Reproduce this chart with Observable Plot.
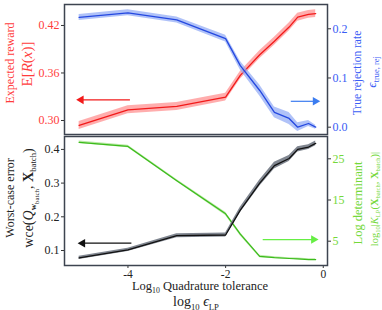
<!DOCTYPE html>
<html>
<head>
<meta charset="utf-8">
<script src="https://cdn.jsdelivr.net/npm/d3@7"></script>
<script src="https://cdn.jsdelivr.net/npm/@observablehq/plot@0.6"></script>
<style>
  html, body { margin: 0; padding: 0; background: #fff; }
  svg { display: block; }
</style>
</head>
<body>
<script>
// ---- data ----
const logTol    = [-5, -4, -3, -2, -1.699, -1.301, -1, -0.699, -0.523, -0.301, -0.155];
// top panel
const reward    = [0.2937, 0.3135, 0.3177, 0.3295, 0.357, 0.383, 0.400, 0.418, 0.4305, 0.434, 0.435];
const rewardErr = [0.005, 0.005, 0.005, 0.005, 0.005, 0.005, 0.005, 0.005, 0.005, 0.005, 0.005];
const rejRate   = [0.223, 0.2325, 0.218, 0.180, 0.125, 0.0746, 0.030, 0.0177, 0.0, 0.0075, 0.0];
const rejErr    = [0.006, 0.006, 0.006, 0.007, 0.009, 0.011, 0.011, 0.012, 0.009, 0.006, 0.004];
// bottom panel
const wce       = [0.078, 0.102, 0.144, 0.146, 0.22, 0.30, 0.352, 0.373, 0.40, 0.407, 0.418];
const wceErr    = [0.005, 0.005, 0.006, 0.006, 0.008, 0.009, 0.010, 0.009, 0.008, 0.007, 0.007];
const logDet    = [29.0, 28.0, 19.7, 11.65, 6.7, 1.3, 1.0, 0.8, 0.7, 0.55, 0.55];
const logDetErr = [0.3, 0.3, 0.3, 0.4, 0.4, 0.3, 0.2, 0.2, 0.2, 0.2, 0.2];
// ticks
const xTicks      = [-4, -2, 0];
const rewardTicks = [0.30, 0.36, 0.42];
const rejTicks    = [0.0, 0.1, 0.2];
const wceTicks    = [0.1, 0.2, 0.3, 0.4];
const detTicks    = [5, 15, 25];
// direction arrows (in each series' own units): [x1, x2, y]
const arrowReward = [-3.96, -5.0, 0.3261];
const arrowRej    = [-0.665, -0.122, 0.0526];
const arrowWce    = [-3.93, -4.97, 0.1217];
const arrowDet    = [-1.24, -0.157, 5.4];

// ---- scale mapping for secondary (right) axes ----
const rejToL = v => 0.29154 + 0.62145 * v;
const detToL = v => 0.06647 + 0.012226 * v;

const xDomain = [-5.30, 0.087];
const frameColor = "#3d4450";
const RED = "#f21a1a", RED_BAND = "#ff8a8a", RED_TXT = "#ff3c3c";
const BLUE = "#2448e0", BLUE_BAND = "#8fa8f5", BLUE_TXT = "#3a5cf5";
const BLACK = "#111", BLACK_BAND = "#6a717c";
const GREEN = "#3cbb1c", GREEN_BAND = "#9be07f", GREEN_TXT = "#74d83a", GREEN_ARR = "#66ee44";

const topRows = logTol.map((x, i) => ({
  x,
  r: reward[i], r1: reward[i] - rewardErr[i], r2: reward[i] + rewardErr[i],
  b: rejToL(rejRate[i]), b1: rejToL(rejRate[i] - rejErr[i]), b2: rejToL(rejRate[i] + rejErr[i])
}));
const botRows = logTol.map((x, i) => ({
  x,
  w: wce[i], w1: wce[i] - wceErr[i], w2: wce[i] + wceErr[i],
  g: detToL(logDet[i]), g1: detToL(logDet[i] - logDetErr[i]), g2: detToL(logDet[i] + logDetErr[i])
}));

const svgStyle = "font-family:'Liberation Serif', serif; font-size:12px; background:#fff; overflow:visible;";

function arrowMarks(a, yMap, color, dir) {
  const d = [{x1: a[0], x2: a[1], y: yMap(a[2])}];
  return [
    Plot.link(d, {x1: "x1", x2: "x2", y1: "y", y2: "y", stroke: color, strokeWidth: 1.2}),
    Plot.dot(d, {x: "x2", y: "y", symbol: "triangle", r: 3.2, fill: color, stroke: null,
                 rotate: dir < 0 ? -90 : 90, dx: dir < 0 ? 2 : -2})
  ];
}

// ---- top panel ----
const topPlot = Plot.plot({
  width: 382, height: 135,
  marginTop: 4, marginBottom: 1, marginLeft: 64, marginRight: 55,
  style: svgStyle,
  x: {domain: xDomain, axis: null},
  y: {domain: [0.2823, 0.4465], axis: null},
  marks: [
    Plot.areaY(topRows, {x: "x", y1: "r1", y2: "r2", fill: RED_BAND, fillOpacity: 0.7}),
    Plot.line(topRows, {x: "x", y: "r", stroke: RED, strokeWidth: 1.3}),
    Plot.areaY(topRows, {x: "x", y1: "b1", y2: "b2", fill: BLUE_BAND, fillOpacity: 0.7}),
    Plot.line(topRows, {x: "x", y: "b", stroke: BLUE, strokeWidth: 1.3}),
    ...arrowMarks(arrowReward, v => v, RED, -1),
    ...arrowMarks(arrowRej, rejToL, "#3b7cf0", 1),
    Plot.axisY(rewardTicks, {anchor: "left", tickSize: 3, tickPadding: 2, stroke: "#333", fill: RED_TXT,
      tickFormat: d => d.toFixed(2), label: null, fontSize: 12}),
    Plot.axisY(rejTicks.map(rejToL), {anchor: "right", tickSize: 3, tickPadding: 2, stroke: "#333", fill: BLUE_TXT,
      tickFormat: (d, i) => rejTicks[i].toFixed(1), label: null, fontSize: 12}),
    Plot.frame({stroke: frameColor, strokeWidth: 1.5})
  ]
});

// ---- bottom panel ----
const botPlot = Plot.plot({
  width: 382, height: 175,
  marginTop: 1, marginBottom: 45, marginLeft: 64, marginRight: 55,
  style: svgStyle,
  x: {domain: xDomain, axis: null},
  y: {domain: [0.0555, 0.4383], axis: null},
  marks: [
    Plot.areaY(botRows, {x: "x", y1: "g1", y2: "g2", fill: GREEN_BAND, fillOpacity: 0.7}),
    Plot.line(botRows, {x: "x", y: "g", stroke: GREEN, strokeWidth: 1.2}),
    Plot.areaY(botRows, {x: "x", y1: "w1", y2: "w2", fill: BLACK_BAND, fillOpacity: 0.85}),
    Plot.line(botRows, {x: "x", y: "w", stroke: BLACK, strokeWidth: 1.3}),
    ...arrowMarks(arrowWce, v => v, BLACK, -1),
    ...arrowMarks(arrowDet, detToL, GREEN_ARR, 1),
    Plot.axisY(wceTicks, {anchor: "left", tickSize: 3, tickPadding: 2, stroke: "#333", fill: "#222",
      tickFormat: d => d.toFixed(1), label: null, fontSize: 12}),
    Plot.axisY(detTicks.map(detToL), {anchor: "right", tickSize: 3, tickPadding: 2, stroke: "#333", fill: GREEN_TXT,
      tickFormat: (d, i) => String(detTicks[i]), label: null, fontSize: 12}),
    Plot.axisX(xTicks, {anchor: "bottom", tickSize: 3, tickPadding: 1, stroke: "#333", fill: "#222",
      tickFormat: d => String(d), label: null, fontSize: 11.5}),
    Plot.frame({stroke: frameColor, strokeWidth: 1.5})
  ]
});

document.body.append(topPlot, botPlot);

// ---- axis titles with sub/superscripts ----
function vlabel(svg, cx, cy, size, color, parts) {
  const t = d3.select(svg).append("text")
    .attr("transform", `translate(${cx},${cy}) rotate(-90)`)
    .attr("text-anchor", "middle").attr("dy", "0.35em")
    .attr("fill", color).style("font-size", size + "px")
    .style("font-family", "'Liberation Serif', serif");
  addParts(t, parts, size);
}
function hlabel(svg, cx, y, size, color, parts) {
  const t = d3.select(svg).append("text")
    .attr("x", cx).attr("y", y).attr("text-anchor", "middle")
    .attr("fill", color).style("font-size", size + "px")
    .style("font-family", "'Liberation Serif', serif");
  addParts(t, parts, size);
}
// parts: [text, level(0 normal, 1 sub, 2 subsub), style]
function addParts(t, parts, size) {
  let level = 0;
  const shift = [0, 0.25 * size, 0.45 * size];
  for (const [txt, lv, st] of parts) {
    const s = t.append("tspan").text(txt);
    const dy = shift[lv] - shift[level];
    if (dy !== 0) s.attr("dy", dy);
    level = lv;
    s.style("font-size", (lv === 0 ? size : lv === 1 ? size * 0.62 : size * 0.5) + "px");
    if (st === "i") s.style("font-style", "italic");
    if (st === "b") s.style("font-weight", "bold");
  }
}

vlabel(topPlot, 9.5, 63, 12, RED_TXT, [["Expected reward", 0]]);
vlabel(topPlot, 27, 64, 15, RED_TXT, [["E[", 0], ["R", 0, "i"], ["(", 0], ["x", 0, "i"], [")]", 0]]);
vlabel(topPlot, 357, 73, 11.5, BLUE_TXT, [["True rejection rate", 0]]);
vlabel(topPlot, 371, 72, 13.5, BLUE_TXT, [["ϵ", 0, "i"], ["true, rej", 1]]);

vlabel(botPlot, 10, 63, 12, "#222", [["Worst-case error", 0]]);
vlabel(botPlot, 28, 63, 14, "#222", [["wce(", 0], ["Q", 0, "i"], ["w", 1, "b"], ["batch", 2], [", ", 0], ["X", 0, "b"], ["batch", 1], [")", 0]]);
vlabel(botPlot, 358, 68, 12.5, GREEN_TXT, [["Log determinant", 0]]);
vlabel(botPlot, 374, 64, 10.5, GREEN_TXT, [["log", 0], ["10", 1], ["|", 0], ["K", 0, "i"], ["LP", 1], ["(", 0], ["X", 0, "b"], ["batch", 1], [", ", 0], ["X", 0, "b"], ["batch", 1], [")|", 0]]);

hlabel(botPlot, 200, 155, 12.5, "#222", [["Log", 0], ["10", 1], [" Quadrature tolerance", 0]]);
hlabel(botPlot, 196, 171, 14, "#222", [["log", 0], ["10", 1], [" ", 0], ["ϵ", 0, "i"], ["LP", 1]]);
</script>
</body>
</html>
